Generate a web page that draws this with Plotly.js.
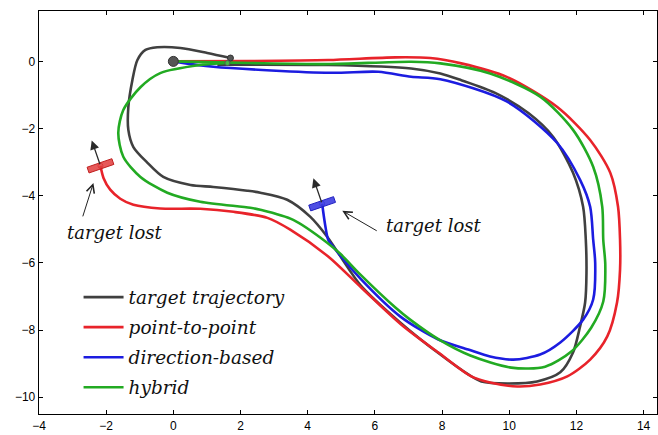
<!DOCTYPE html>
<html>
<head>
<meta charset="utf-8">
<script src="https://cdn.plot.ly/plotly-3.0.1.min.js"></script>
<style>html,body{margin:0;padding:0;background:#fff;}#chart{width:658px;height:435px;}</style>
</head>
<body>
<div id="chart"></div>
<script>
// ---- data ----
var targetX = [1.31, 4.61, 7.08, 7.95, 8.57, 9.58, 10.57, 11.31, 11.90, 12.20, 12.28, 12.30, 12.26, 12.11, 11.90, 11.52, 10.83, 9.94, 9.17, 8.78, 7.95, 6.76, 5.57, 4.58, 4.08, 3.39, 2.59, 2.20, 1.19, 0.51, -0.30, -0.77, -1.19, -1.34, -1.34, -1.22, -1.07, -0.83, -0.48, 0.21, 1.01, 1.70];
var targetY = [-0.10, -0.11, -0.21, -0.36, -0.56, -0.94, -1.54, -2.25, -3.32, -4.33, -5.31, -6.30, -7.18, -7.89, -8.67, -9.26, -9.53, -9.59, -9.53, -9.32, -8.73, -7.78, -6.66, -5.22, -4.63, -4.12, -3.91, -3.85, -3.74, -3.68, -3.44, -3.02, -2.55, -2.04, -1.36, -0.56, 0.04, 0.34, 0.42, 0.40, 0.25, 0.10];

var p2pX = [0, 2.29, 4.61, 6.61, 7.65, 8.57, 9.94, 11.43, 12.41, 13.01, 13.24, 13.30, 13.30, 13.21, 12.92, 12.41, 11.73, 10.92, 10.24, 9.43, 8.87, 7.89, 6.79, 5.60, 4.61, 3.48, 2.80, 1.79, 0.80, -0.39, -1.19, -1.58, -1.88, -2.08, -2.17];
var p2pY = [0, 0.01, 0.04, 0.12, 0.10, -0.06, -0.47, -1.36, -2.34, -3.32, -4.33, -5.31, -6.20, -7.18, -8.19, -8.88, -9.38, -9.62, -9.68, -9.56, -9.38, -8.67, -7.84, -6.74, -5.81, -5.01, -4.66, -4.48, -4.39, -4.38, -4.27, -4.09, -3.82, -3.47, -3.11];

var dirX = [0, 1.19, 4.67, 6.10, 7.08, 7.95, 9.94, 11.43, 12.11, 12.41, 12.50, 12.56, 12.50, 12.20, 11.52, 10.92, 10.12, 9.43, 8.78, 7.89, 6.76, 5.57, 4.76, 4.61, 4.52, 4.43];
var dirY = [0, -0.16, -0.34, -0.31, -0.46, -0.53, -1.20, -2.43, -3.53, -4.33, -5.31, -6.00, -7.09, -7.69, -8.37, -8.73, -8.88, -8.79, -8.58, -8.28, -7.60, -6.47, -5.52, -5.31, -4.87, -4.24];

var hybX = [0, 2.29, 4.61, 7.08, 7.95, 9.43, 10.92, 11.90, 12.50, 12.77, 12.80, 12.86, 12.80, 12.44, 11.85, 11.07, 10.06, 8.84, 7.95, 7.05, 6.61, 5.57, 4.97, 4.58, 3.57, 2.59, 2.29, 0.80, -0.18, -0.98, -1.49, -1.64, -1.49, -0.98, -0.39, 0.80, 1.61];
var hybY = [0, -0.05, -0.08, -0.01, -0.06, -0.36, -1.05, -2.04, -3.14, -4.33, -5.31, -6.05, -7.15, -7.93, -8.64, -9.09, -9.12, -8.76, -8.31, -7.69, -7.33, -6.35, -5.73, -5.40, -4.72, -4.42, -4.36, -4.18, -3.91, -3.44, -2.84, -2.13, -1.45, -0.77, -0.35, -0.11, -0.05];

var seriesNames = ['target trajectory', 'point-to-point', 'direction-based', 'hybrid'];
var seriesColors = ['#404040', '#e8232a', '#1c1ce0', '#22aa22'];
var lostText = 'target lost';
var xTicks = [-4, -2, 0, 2, 4, 6, 8, 10, 12, 14];
var yTicks = [-10, -8, -6, -4, -2, 0];

// ---- traces ----
var xs = [targetX, p2pX, dirX, hybX];
var ys = [targetY, p2pY, dirY, hybY];
var traces = [];
for (var i = 0; i < 4; i++) {
  traces.push({
    x: xs[i], y: ys[i], type: 'scatter', mode: 'lines',
    name: seriesNames[i], legendgroup: 'g' + i,
    line: {color: seriesColors[i], width: 2.6, shape: 'spline', smoothing: 0.8},
    hoverinfo: 'skip'
  });
}
// start / end dots
traces.push({x: [p2pX[0]], y: [p2pY[0]], mode: 'markers', type: 'scatter', showlegend: false,
  marker: {size: 10, color: '#555555', line: {color: '#333333', width: 1}}, hoverinfo: 'skip'});
traces.push({x: [targetX[targetX.length - 1]], y: [targetY[targetY.length - 1]], mode: 'markers', type: 'scatter', showlegend: false,
  marker: {size: 6, color: '#555555', line: {color: '#333333', width: 1}}, hoverinfo: 'skip'});
traces.push({x: [hybX[hybX.length - 1]], y: [hybY[hybY.length - 1]], mode: 'markers', type: 'scatter', showlegend: false,
  marker: {size: 5, color: '#44bb44', line: {color: '#555555', width: 1}}, hoverinfo: 'skip'});

// robot markers at the end of the lost trajectories
var shapes = [];
var annotations = [];
var ang = 19 * Math.PI / 180;
var halfL = 0.39, halfW = 0.09, headLen = 0.8;
function robot(cx, cy, fill, edge) {
  var ux = Math.cos(ang), uy = Math.sin(ang);
  var vx = -uy, vy = ux;
  var pts = [
    [cx - ux * halfL - vx * halfW, cy - uy * halfL - vy * halfW],
    [cx + ux * halfL - vx * halfW, cy + uy * halfL - vy * halfW],
    [cx + ux * halfL + vx * halfW, cy + uy * halfL + vy * halfW],
    [cx - ux * halfL + vx * halfW, cy - uy * halfL + vy * halfW]
  ];
  var d = 'M' + pts.map(function (p) { return p[0] + ',' + p[1]; }).join('L') + 'Z';
  shapes.push({type: 'path', xref: 'x', yref: 'y', path: d, fillcolor: fill, line: {color: edge, width: 1}, layer: 'above'});
  annotations.push({x: cx + vx * headLen, y: cy + vy * headLen, ax: cx, ay: cy, xref: 'x', yref: 'y', axref: 'x', ayref: 'y',
    text: '', showarrow: true, arrowhead: 2, arrowsize: 1.4, arrowwidth: 1.3, arrowcolor: '#2a2a2a', standoff: 0, startstandoff: 0});
  traces.push({x: [cx], y: [cy], mode: 'markers', type: 'scatter', showlegend: false,
    marker: {size: 5, color: 'rgba(0,0,0,0)', line: {color: edge, width: 1}}, hoverinfo: 'skip'});
}
robot(p2pX[p2pX.length - 1], p2pY[p2pY.length - 1], 'rgba(226,60,60,0.85)', '#c02020');
robot(dirX[dirX.length - 1], dirY[dirY.length - 1], 'rgba(60,60,225,0.9)', '#2020c0');

var serif = {family: 'DejaVu Serif, serif', size: 18, color: '#111111', style: 'italic'};
// "target lost" labels and arrows
annotations.push({x: -1.73, y: -5.10, xref: 'x', yref: 'y', text: lostText, showarrow: false, font: serif, xanchor: 'center', yanchor: 'middle'});
annotations.push({x: -2.38, y: -3.62, ax: -2.71, ay: -4.66, xref: 'x', yref: 'y', axref: 'x', ayref: 'y', text: '', showarrow: true,
  arrowhead: 5, arrowsize: 1.6, arrowwidth: 1, arrowcolor: '#222222', standoff: 0});
annotations.push({x: 6.28, y: -4.89, xref: 'x', yref: 'y', text: lostText, showarrow: false, font: serif, xanchor: 'left', yanchor: 'middle'});
annotations.push({x: 5.03, y: -4.45, ax: 6.10, ay: -5.07, xref: 'x', yref: 'y', axref: 'x', ayref: 'y', text: '', showarrow: true,
  arrowhead: 5, arrowsize: 1.6, arrowwidth: 1, arrowcolor: '#222222', standoff: 0});

var axisCommon = {
  showgrid: false, zeroline: false, showline: true, linecolor: '#000000', linewidth: 1.3,
  mirror: 'allticks', ticks: 'inside', ticklen: 4, tickwidth: 1, tickcolor: '#000000',
  tickfont: {family: 'Liberation Sans, Arial, sans-serif', size: 12, color: '#000000'}
};
function fmt(v) { return v < 0 ? '\u2212' + Math.abs(v) : String(v); }
var layout = {
  width: 658, height: 435,
  margin: {l: 39, r: 1, t: 11, b: 21, pad: 0},
  paper_bgcolor: '#ffffff', plot_bgcolor: '#ffffff',
  xaxis: Object.assign({}, axisCommon, {range: [-4, 14.4], tickvals: xTicks, ticktext: xTicks.map(fmt)}),
  yaxis: Object.assign({}, axisCommon, {range: [-10.5, 1.5], tickvals: yTicks, ticktext: yTicks.map(fmt)}),
  showlegend: true,
  legend: {x: 0.064, y: 0.336, xanchor: 'left', yanchor: 'top', bgcolor: 'rgba(0,0,0,0)', borderwidth: 0,
    font: {family: 'DejaVu Serif, serif', size: 18.5, color: '#111111', style: 'italic'},
    traceorder: 'grouped', tracegroupgap: 3, itemwidth: 40},
  shapes: shapes,
  annotations: annotations
};
Plotly.newPlot('chart', traces, layout, {staticPlot: true, displayModeBar: false});
</script>
</body>
</html>
